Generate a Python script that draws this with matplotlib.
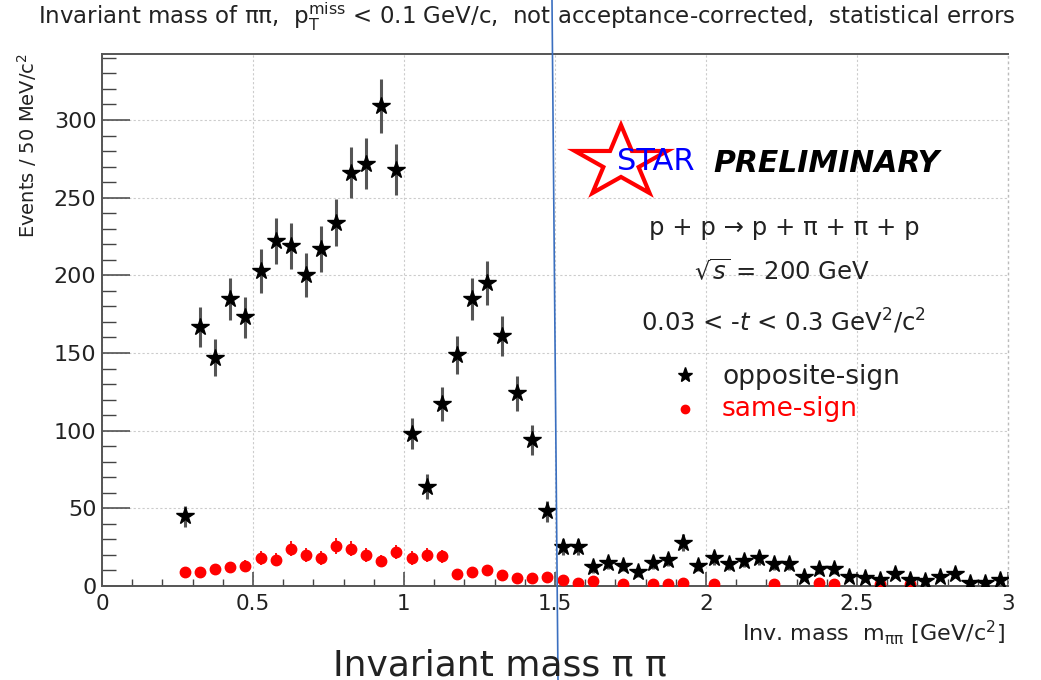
import numpy as np
import matplotlib
matplotlib.use("Agg")
from matplotlib import pyplot as plt
from matplotlib.patches import Polygon
from matplotlib.lines import Line2D
from matplotlib.ticker import MultipleLocator, FuncFormatter

# 50 MeV bins starting at 0.25 GeV/c^2
bin_start = 0.25
bin_width = 0.05
opposite_sign = [45, 167, 147, 185, 173, 203, 222, 219, 200, 217, 234, 266, 272, 309, 268,
                 98, 64, 117, 149, 185, 195, 161, 124, 94, 48,
                 25, 25, 12, 15, 13, 9, 15, 17, 28, 13, 18, 14, 16, 18, 14,
                 14, 6, 11, 11, 6, 5, 4, 8, 4, 3, 6, 8, 2, 2, 4]
same_sign = [9, 9, 11, 12, 13, 18, 17, 24, 20, 18, 26, 24, 20, 16, 22,
             18, 20, 19, 8, 9, 10, 7, 5, 5, 6,
             4, 2, 3, 0, 1, 0, 1, 1, 2, 0, 1, 0, 0, 0, 1,
             0, 0, 2, 1, 0, 0, 1, 0, 1, 0, 0, 0, 0, 0, 0]

W, H = 1041, 680
fig = plt.figure(figsize=(W / 100, H / 100), dpi=100)
ax = fig.add_axes([102 / W, (H - 586) / H, 906 / W, 532 / H])

centers = bin_start + bin_width * (np.arange(len(opposite_sign)) + 0.5)
os_ = np.array(opposite_sign, dtype=float)
ss_ = np.array(same_sign, dtype=float)
keep = ss_ > 0  # empty bins are not drawn

ax.errorbar(centers, os_, yerr=np.sqrt(os_), fmt='*', color='black', ms=13,
            ecolor='#555555', elinewidth=2.2, capsize=0, zorder=4)
ax.errorbar(centers[keep], ss_[keep], yerr=np.sqrt(ss_[keep]), fmt='o', color='red',
            ms=7.5, ecolor='red', elinewidth=1.3, capsize=0, zorder=3)

ax.set_xlim(0, 3)
ax.set_ylim(0, 342.5)
ax.xaxis.set_major_locator(MultipleLocator(0.5))
ax.xaxis.set_minor_locator(MultipleLocator(0.1))
ax.yaxis.set_major_locator(MultipleLocator(50))
ax.yaxis.set_minor_locator(MultipleLocator(10))
ax.xaxis.set_major_formatter(FuncFormatter(lambda v, p: f"{v:g}"))
ax.tick_params(axis='x', which='major', direction='in', length=10, width=1.1,
               color='#444444', labelsize=15.5, pad=6, labelcolor='#222222')
ax.tick_params(axis='x', which='minor', direction='in', length=5, width=1.0, color='#444444')
ax.tick_params(axis='y', which='major', direction='in', length=20, width=1.1,
               color='#444444', labelsize=16, pad=4, labelcolor='#222222')
ax.tick_params(axis='y', which='minor', direction='in', length=10, width=1.0, color='#444444')
ax.grid(True, which='major', linestyle=(0, (2, 2)), color='#cccccc', linewidth=0.8)
ax.set_axisbelow(True)
for side in ['left', 'bottom', 'top']:
    ax.spines[side].set_color('#555555')
    ax.spines[side].set_linewidth(1.4)
ax.spines['right'].set_visible(False)
ax.axvline(3, linestyle=(0, (2, 2)), color='#bbbbbb', linewidth=1.0, clip_on=False)

# STAR logo: red outlined star with the name inside
cx, cy, R, sx = 621, 162.6, 37.6, 1.29
pts = []
for k in range(10):
    r = R if k % 2 == 0 else R * 0.382
    a = np.pi / 2 - k * np.pi / 5
    pts.append(((cx + sx * r * np.cos(a)) / W, (H - (cy - r * np.sin(a))) / H))
fig.patches.append(Polygon(pts, closed=True, fill=False, edgecolor='red', linewidth=3,
                           transform=fig.transFigure, figure=fig))
fig.text(656 / W, 1 - 162 / H, 'STAR', color='blue', fontsize=22, ha='center', va='center')
fig.text(713 / W, 1 - 163 / H, 'PRELIMINARY', fontsize=21.5, fontweight='bold',
         fontstyle='italic', ha='left', va='center')

fig.text(784 / W, 1 - 228 / H, 'p + p \u2192 p + \u03c0 + \u03c0 + p', fontsize=17.5,
         ha='center', va='center', color='#222222')
fig.text(782 / W, 1 - 272 / H, r'$\sqrt{s}$ = 200 GeV', fontsize=17.5,
         ha='center', va='center', color='#222222')
fig.text(783 / W, 1 - 322 / H, r'0.03 < -$\it{t}$ < 0.3 GeV$^{2}$/c$^{2}$', fontsize=17.5,
         ha='center', va='center', color='#222222')

# legend entries
fig.lines.append(Line2D([685 / W], [1 - 375 / H], marker='*', color='black', ms=11,
                        linestyle='none', transform=fig.transFigure))
fig.lines.append(Line2D([685 / W], [1 - 409 / H], marker='o', color='red', ms=6,
                        linestyle='none', transform=fig.transFigure))
fig.text(722 / W, 1 - 377 / H, 'opposite-sign', fontsize=19, ha='left', va='center',
         color='#222222')
fig.text(722 / W, 1 - 409 / H, 'same-sign', fontsize=19, ha='left', va='center',
         color='red')

fig.text(527 / W, 1 - 17 / H,
         r'Invariant mass of $\mathregular{\pi\pi}$,  $\mathregular{p_{T}^{miss}}$ < 0.1 GeV/c,  '
         r'not acceptance-corrected,  statistical errors',
         fontsize=16.5, ha='center', va='center', color='#222222')
fig.text(27 / W, 1 - 53 / H, r'Events / 50 MeV/c$^{2}$', rotation=90, fontsize=14,
         ha='center', va='top', color='#222222')
fig.text(1005 / W, 1 - 633 / H, r'Inv. mass  m$_{\mathregular{\pi\pi}}$ [GeV/c$^{2}$]',
         fontsize=16, ha='right', va='center', color='#222222')
fig.text(500 / W, 1 - 665 / H, 'Invariant mass \u03c0 \u03c0', fontsize=26,
         ha='center', va='center', color='#222222')

# blue marker line across the slide
fig.lines.append(Line2D([552 / W, 558 / W], [1, 0], color='#3a6fc0', linewidth=1.2,
                        transform=fig.transFigure))

fig.savefig('out.png', dpi=100)
